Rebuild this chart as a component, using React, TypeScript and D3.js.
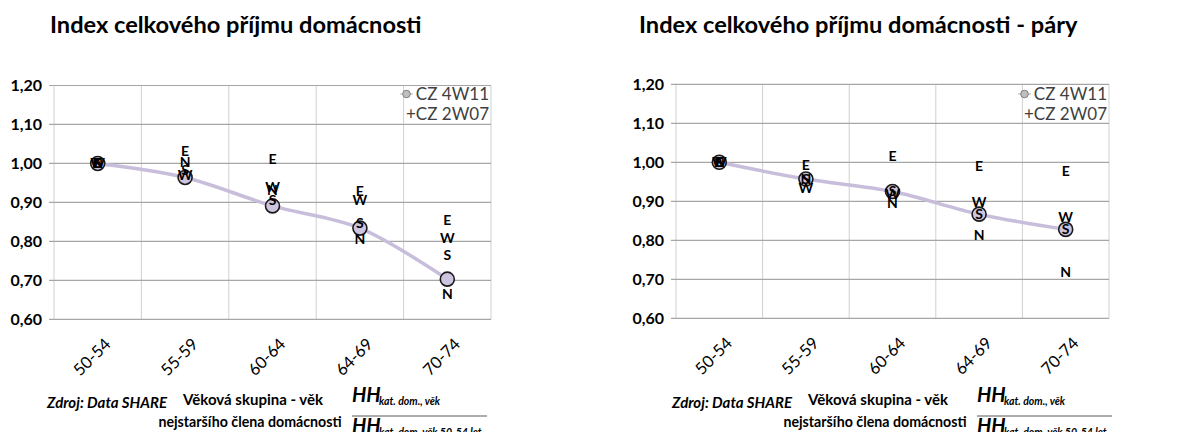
import React from "react";
import * as d3 from "d3";

const categories = ["50-54", "55-59", "60-64", "64-69", "70-74"];
const yTicks = [0.6, 0.7, 0.8, 0.9, 1.0, 1.1, 1.2];

// Left chart: all households
const leftTotal = [1.0, 0.964, 0.891, 0.834, 0.703];
const leftE = [1.0, 1.031, 1.011, 0.929, 0.854];
const leftW = [1.0, 0.971, 0.939, 0.907, 0.81];
const leftS = [1.0, 0.984, 0.906, 0.847, 0.766];
const leftN = [1.0, 1.003, 0.932, 0.806, 0.665];

// Right chart: couples
const rightTotal = [1.0, 0.957, 0.925, 0.867, 0.828];
const rightE = [1.0, 0.993, 1.017, 0.99, 0.978];
const rightW = [1.0, 0.934, 0.92, 0.899, 0.859];
const rightS = [1.0, 0.957, 0.926, 0.868, 0.828];
const rightN = [1.0, 0.957, 0.896, 0.814, 0.719];

const legendLines = ["CZ 4W11", "+CZ 2W07"];

const FONT = "Lato, 'Open Sans', sans-serif";

type PanelProps = {
  title: string;
  titleX: number;
  plotLeft: number;
  plotRight: number;
  yTop: number;
  yBottom: number;
  total: number[];
  E: number[];
  W: number[];
  S: number[];
  N: number[];
  dx: number;
  subBottom: string;
};

function Panel(p: PanelProps) {
  const x = d3
    .scaleBand<string>()
    .domain(categories)
    .range([p.plotLeft, p.plotRight]);
  const y = d3.scaleLinear().domain([0.6, 1.2]).range([p.yBottom, p.yTop]);
  const cx = (c: string) => (x(c) as number) + x.bandwidth() / 2;
  const line = d3
    .line<number>()
    .x((_, i) => cx(categories[i]))
    .y((d) => y(d))
    .curve(d3.curveCatmullRom.alpha(0.5));
  const letters: [string, number[]][] = [
    ["N", p.N],
    ["S", p.S],
    ["W", p.W],
    ["E", p.E],
  ];
  const dx = p.dx;
  return (
    <g>
      <text
        x={p.titleX}
        y={33}
        fontFamily={FONT}
        fontWeight={700}
        fontSize={23.6}
        fill="#000"
      >
        {p.title}
      </text>
      {/* vertical gridlines */}
      {categories.map((c, i) => (
        <line
          key={"v" + i}
          x1={x(c) as number}
          x2={x(c) as number}
          y1={p.yTop}
          y2={p.yBottom}
          stroke="#d0d0d0"
          strokeWidth={1}
        />
      ))}
      <line
        x1={p.plotRight}
        x2={p.plotRight}
        y1={p.yTop}
        y2={p.yBottom}
        stroke="#d0d0d0"
        strokeWidth={1}
      />
      {/* horizontal gridlines */}
      {yTicks.map((t, i) => (
        <g key={"h" + i}>
          <line
            x1={p.plotLeft - 5}
            x2={p.plotRight}
            y1={y(t)}
            y2={y(t)}
            stroke="#a6a6a6"
            strokeWidth={1.2}
          />
          <text
            x={p.plotLeft - 12}
            y={y(t)}
            dy="0.35em"
            textAnchor="end"
            fontFamily={FONT}
            fontWeight={700}
            fontSize={16}
            fill="#000"
          >
            {d3.format(".2f")(t).replace(".", ",")}
          </text>
        </g>
      ))}
      {/* x labels */}
      {categories.map((c, i) => (
        <text
          key={"xl" + i}
          transform={`translate(${cx(c) + 14},${p.yBottom + 26}) rotate(-45)`}
          textAnchor="end"
          fontFamily={FONT}
          fontSize={16.5}
          fill="#000"
        >
          {c}
        </text>
      ))}
      {/* line */}
      <path
        d={line(p.total) || ""}
        fill="none"
        stroke="#c8bedc"
        strokeWidth={3.5}
      />
      {p.total.map((v, i) => (
        <circle
          key={"m" + i}
          cx={cx(categories[i])}
          cy={y(v)}
          r={7}
          fill="#cdc4df"
          stroke="#1a1a1a"
          strokeWidth={1.6}
        />
      ))}
      {letters.map(([L, arr]) =>
        arr.map((v, i) => (
          <text
            key={L + i}
            x={cx(categories[i])}
            y={y(v)}
            dy="0.36em"
            textAnchor="middle"
            fontFamily={FONT}
            fontWeight={700}
            fontSize={14}
            fill="#000"
          >
            {L}
          </text>
        ))
      )}
      {/* legend */}
      <line
        x1={p.plotRight - 91}
        x2={p.plotRight - 78}
        y1={94}
        y2={94}
        stroke="#d9d9d9"
        strokeWidth={2}
      />
      <circle
        cx={p.plotRight - 84.5}
        cy={94}
        r={3.8}
        fill="#bfbfbf"
        stroke="#7f7f7f"
        strokeWidth={1}
      />
      <text
        x={p.plotRight - 2}
        y={100}
        textAnchor="end"
        fontFamily={FONT}
        fontSize={17}
        fill="#404040"
      >
        {legendLines[0]}
      </text>
      <text
        x={p.plotRight - 2}
        y={120}
        textAnchor="end"
        fontFamily={FONT}
        fontSize={17}
        fill="#404040"
      >
        {legendLines[1]}
      </text>
      {/* bottom notes */}
      <text
        x={47 + dx}
        y={408}
        fontFamily={FONT}
        fontWeight={700}
        fontStyle="italic"
        fontSize={15}
        fill="#000"
      >
        Zdroj: Data SHARE
      </text>
      <text
        x={253 + dx}
        y={405}
        textAnchor="middle"
        fontFamily={FONT}
        fontWeight={700}
        fontSize={15}
        fill="#000"
      >
        Věková skupina - věk
      </text>
      <text
        x={250 + dx}
        y={427}
        textAnchor="middle"
        fontFamily={FONT}
        fontWeight={700}
        fontSize={14.2}
        fill="#000"
      >
        nejstaršího člena domácnosti
      </text>
      <text
        x={352 + dx}
        y={402}
        fontFamily={FONT}
        fontWeight={700}
        fontStyle="italic"
        fontSize={20}
        fill="#000"
      >
        HH
      </text>
      <text
        x={379 + dx}
        y={405}
        fontFamily={FONT}
        fontWeight={700}
        fontStyle="italic"
        fontSize={10.5}
        fill="#000"
      >
        kat. dom., věk
      </text>
      <line
        x1={352 + dx}
        x2={487 + dx}
        y1={416}
        y2={416}
        stroke="#595959"
        strokeWidth={1}
      />
      <text
        x={352 + dx}
        y={433}
        fontFamily={FONT}
        fontWeight={700}
        fontStyle="italic"
        fontSize={20}
        fill="#000"
      >
        HH
      </text>
      <text
        x={379 + dx}
        y={436}
        fontFamily={FONT}
        fontWeight={700}
        fontStyle="italic"
        fontSize={10.5}
        fill="#000"
      >
        {p.subBottom}
      </text>
    </g>
  );
}

export default function App() {
  return (
    <svg
      width={1203}
      height={432}
      style={{ position: "absolute", left: 0, top: 0, background: "#fff" }}
    >
      <rect x={0} y={0} width={1203} height={432} fill="#fff" />
      <Panel
        title="Index celkového příjmu domácnosti"
        titleX={50}
        plotLeft={54}
        plotRight={491}
        yTop={85.5}
        yBottom={319.3}
        total={leftTotal}
        E={leftE}
        W={leftW}
        S={leftS}
        N={leftN}
        dx={0}
        subBottom="kat. dom. věk 50-54 let"
      />
      <Panel
        title="Index celkového příjmu domácnosti - páry"
        titleX={639}
        plotLeft={676}
        plotRight={1109}
        yTop={84.3}
        yBottom={318.3}
        total={rightTotal}
        E={rightE}
        W={rightW}
        S={rightS}
        N={rightN}
        dx={625}
        subBottom="kat. dom, věk 50-54 let"
      />
    </svg>
  );
}
